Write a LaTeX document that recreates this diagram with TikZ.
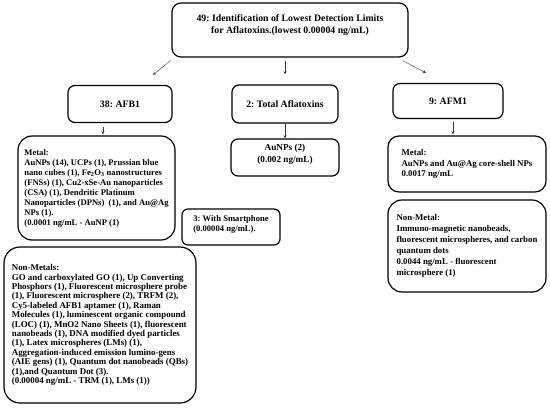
\documentclass[tikz,border=0pt]{standalone}
\usepackage{fontspec}
\setmainfont{Liberation Serif}
\frenchspacing
\usetikzlibrary{arrows, calc, positioning}
\tikzset{
    box/.style={draw, line width=1.2pt, rounded corners=7pt, align=left, inner sep=0pt,
        font=\bfseries\fontsize{8.6}{10}\selectfont}, % boxes with the lists
    head/.style={box, align=center, font=\bfseries\fontsize{9.8}{11.5}\selectfont},
}
\tikzstyle{arrow} = [->, >=stealth, gray!40!black, thin]

\begin{document}
\begin{tikzpicture}[x=1pt, y=-1pt]
    \useasboundingbox (0,0) rectangle (550,410);

    % top
    \node[head, rounded corners=9pt, minimum width=236pt, minimum height=54pt] (top) at (290,30)
        {49: Identification of Lowest Detection Limits\\for Aflatoxins.(lowest 0.00004 ng/mL)\\ \mbox{}};

    % second row
    \node[head, minimum width=104pt, minimum height=37pt] (afb1) at (120,104) {38: AFB1};
    \node[head, minimum width=106pt, minimum height=38pt] (total) at (285,104) {2: Total Aflatoxins};
    \node[head, minimum width=110pt, minimum height=35pt] (afm1) at (448,101) {9: AFM1};

    % AFB1
    \node[box, minimum width=157pt, minimum height=104pt, rounded corners=14pt] (metalb) at (96.5,188)
        {Metal:\\
        AuNPs (14), UCPs (1), Prussian blue\\
        nano cubes (1), Fe\textsubscript{2}O\textsubscript{3} nanostructures\\
        (FNSs) (1), Cu2-xSe-Au nanoparticles\\
        (CSA) (1), Dendritic Platinum\\
        Nanoparticles (DPNs)~~(1), and Au@Ag\\
        NPs (1).\\
        (0.0001 ng/mL - AuNP (1)};
    \node[box, minimum width=192pt, minimum height=156pt, rounded corners=16pt,
        font=\bfseries\fontsize{8.9}{9.4}\selectfont] (nonmetalb) at (100,325)
        {Non-Metals:\\
        GO and carboxylated GO (1), Up Converting\\
        Phosphors (1), Fluorescent microsphere probe\\
        (1), Fluorescent microsphere (2), TRFM (2),\\
        Cy5-labeled AFB1 aptamer (1), Raman\\
        Molecules (1), luminescent organic compound\\
        (LOC) (1), MnO2 Nano Sheets (1), fluorescent\\
        nanobeads (1), DNA modified dyed particles\\
        (1), Latex microspheres (LMs) (1),\\
        Aggregation-induced emission lumino-gens\\
        (AIE gens) (1), Quantum dot nanobeads (QBs)\\
        (1),and Quantum Dot (3).\\
        (0.00004 ng/mL - TRM (1), LMs (1))};

    % total
    \node[box, align=center, minimum width=108pt, minimum height=37pt,
        font=\bfseries\fontsize{9.2}{12}\selectfont] (aunp) at (285,157.5)
        {AuNPs (2)\\(0.002 ng/mL)\\[-3pt]\mbox{}};
    \node[box, minimum width=98pt, minimum height=36pt, rounded corners=6pt] (phone) at (231,227)
        {3: With Smartphone\\(0.00004 ng/mL).\\[-4pt]\mbox{}};

    % AFM1
    \node[box, minimum width=158pt, minimum height=56pt, rounded corners=11pt,
        font=\bfseries\fontsize{8.8}{10.5}\selectfont] (metalm) at (467,164)
        {Metal:\\
        AuNPs and Au@Ag core-shell NPs\\
        0.0017 ng/mL};
    \node[box, minimum width=158pt, minimum height=92pt, rounded corners=14pt,
        font=\bfseries\fontsize{8.8}{11}\selectfont] (nonmetalm) at (467,246)
        {Non-Metal:\\
        Immuno-magnetic nanobeads,\\
        fluorescent microspheres, and carbon\\
        quantum dots\\
        0.0044 ng/mL - fluorescent\\
        microsphere (1)};

    % arrows
    \draw[arrow] ([xshift=-1pt,yshift=-3pt]top.south west) -- ([xshift=33pt,yshift=10pt]afb1.north);
    \draw[arrow] ($(top.south -| total.north)+(0,3)$) -- ([yshift=10pt]total.north);
    \draw[arrow] ([xshift=-6pt,yshift=-3pt]top.south east) -- ([xshift=-22pt,yshift=10pt]afm1.north);
    \draw[arrow] ([xshift=-17pt,yshift=-4pt]afb1.south) -- ($(afb1.south |- metalb.north)+(-17,-1)$);
    \draw[arrow] (total) -- (aunp);
    \draw[arrow] ([xshift=5pt,yshift=-3pt]afm1.south) -- ($(afm1.south |- metalm.north)+(5,-1)$);
\end{tikzpicture}
\end{document}
